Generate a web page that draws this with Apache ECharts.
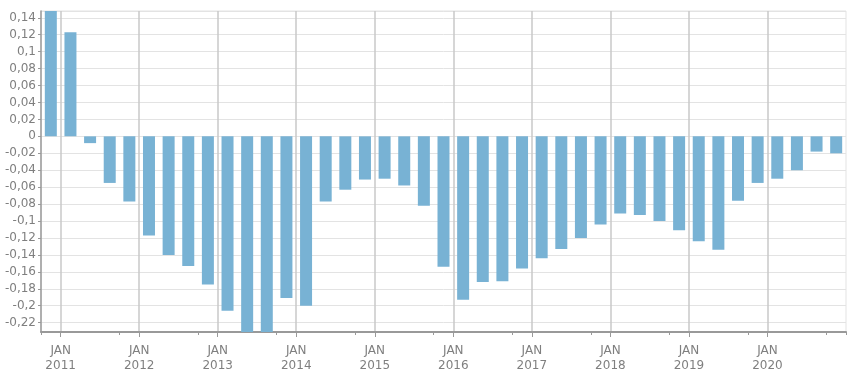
<!DOCTYPE html>
<html>
<head>
<meta charset="utf-8">
<script src="https://cdn.jsdelivr.net/npm/echarts@6/dist/echarts.min.js"></script>
<style>
html,body{margin:0;padding:0;background:#fff;}
#chart{width:864px;height:383px;}
</style>
</head>
<body>
<div id="chart"></div>
<script>
// Quarterly categories (Q4 2010 .. Q4 2020)
var quarters = [
  '2010-Q4',
  '2011-Q1','2011-Q2','2011-Q3','2011-Q4',
  '2012-Q1','2012-Q2','2012-Q3','2012-Q4',
  '2013-Q1','2013-Q2','2013-Q3','2013-Q4',
  '2014-Q1','2014-Q2','2014-Q3','2014-Q4',
  '2015-Q1','2015-Q2','2015-Q3','2015-Q4',
  '2016-Q1','2016-Q2','2016-Q3','2016-Q4',
  '2017-Q1','2017-Q2','2017-Q3','2017-Q4',
  '2018-Q1','2018-Q2','2018-Q3','2018-Q4',
  '2019-Q1','2019-Q2','2019-Q3','2019-Q4',
  '2020-Q1','2020-Q2','2020-Q3','2020-Q4'
];
var values = [
  0.16, 0.123, -0.008, -0.055,
  -0.077, -0.117, -0.140, -0.153,
  -0.175, -0.206, -0.24, -0.24,
  -0.191, -0.200, -0.077, -0.063,
  -0.051, -0.050, -0.058, -0.082,
  -0.154, -0.193, -0.172, -0.171,
  -0.156, -0.144, -0.133, -0.120,
  -0.104, -0.091, -0.093, -0.100,
  -0.111, -0.124, -0.134, -0.076,
  -0.055, -0.050, -0.040, -0.018,
  -0.020
];
// Boundary tick labels (start of each quarter); only January ones are shown
var boundaryMonths = ['OCT','JAN','APR','JUL'];
var firstYear = 2010;
var boundaryLabels = [];
for (var i = 0; i <= quarters.length; i++) {
  var m = boundaryMonths[i % 4];
  var y = firstYear + Math.floor((i + 3) / 4);
  boundaryLabels.push(m + '\n' + y);
}
var yMin = -0.231, yMax = 0.148;

var isJan = function (idx) { return idx % 4 === 1 && idx < quarters.length; };
var txt = '#7f7f7f';
var font = 'DejaVu Sans';

var chart = echarts.init(document.getElementById('chart'), null, {renderer: 'canvas'});
chart.setOption({
  animation: false,
  backgroundColor: '#ffffff',
  grid: {left: 41, right: 18, top: 11, bottom: 51, show: true, borderColor: '#e3e3e3', borderWidth: 1, backgroundColor: 'transparent'},
  xAxis: [
    {
      type: 'category', data: quarters, boundaryGap: true, position: 'bottom',
      axisLine: {show: true, onZero: false, lineStyle: {color: '#999', width: 2}},
      axisTick: {show: true, length: 3, lineStyle: {color: '#999'}},
      axisLabel: {show: false},
      splitLine: {show: false}
    },
    {
      type: 'category', data: boundaryLabels, boundaryGap: false, position: 'bottom',
      axisLine: {show: false, onZero: false},
      axisTick: {show: true, interval: isJan, length: 5, lineStyle: {color: '#999'}},
      axisLabel: {show: true, interval: isJan, margin: 11, color: txt, fontFamily: font, fontSize: 12, lineHeight: 15},
      splitLine: {show: true, interval: isJan, lineStyle: {color: '#c8c8c8', width: 1.5}}
    }
  ],
  yAxis: {
    type: 'value', min: yMin, max: yMax, splitNumber: 19,
    axisLine: {show: true, lineStyle: {color: '#999', width: 1.5}},
    axisTick: {show: true, length: 3, lineStyle: {color: '#999'}},
    axisLabel: {
      color: txt, fontFamily: font, fontSize: 12, margin: 5,
      showMinLabel: false, showMaxLabel: false,
      formatter: function (v) { return String(+v.toFixed(2)).replace('.', ','); }
    },
    splitLine: {show: true, lineStyle: {color: '#e3e3e3', width: 1}}
  },
  series: [{
    type: 'bar', xAxisIndex: 0, data: values, barWidth: 12,
    itemStyle: {color: '#78b2d4'}, clip: true
  }]
});
</script>
</body>
</html>
